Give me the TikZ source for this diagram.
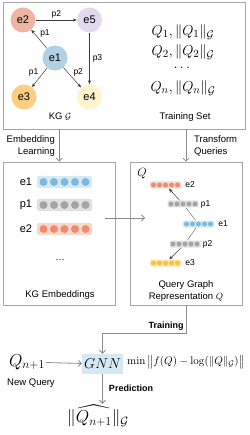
\documentclass[tikz,border=0pt]{standalone}
\usepackage{amsmath,amssymb}
\usepackage[no-math]{fontspec}
\setmainfont{Liberation Sans}
\usetikzlibrary{arrows.meta,positioning,calc}
\definecolor{entA}{RGB}{176,209,227}
\definecolor{entB}{RGB}{240,180,162}
\definecolor{entC}{RGB}{251,206,130}
\definecolor{entD}{RGB}{255,243,208}
\definecolor{entE}{RGB}{226,217,238}
\definecolor{dotblue}{RGB}{125,185,220}
\definecolor{bgblue}{RGB}{214,234,246}
\definecolor{dotgray}{RGB}{165,165,165}
\definecolor{bggray}{RGB}{224,224,224}
\definecolor{dotred}{RGB}{240,140,110}
\definecolor{bgred}{RGB}{250,215,205}
\definecolor{dotorange}{RGB}{252,190,70}
\definecolor{bgorange}{RGB}{255,230,170}
\definecolor{gnnfill}{RGB}{214,232,243}
\definecolor{boxgray}{RGB}{165,165,165}
\definecolor{flowgray}{RGB}{140,140,140}
\definecolor{arcgray}{RGB}{60,60,60}
\newcommand{\bigvec}[5]{%
  \node[bigbar,fill=#4] (#1) at (#2,#3) {};
  \foreach \k in {-2,...,2} \fill[#5] ($(#1)+(\k*10.5,0)$) circle (4pt);}
\newcommand{\smallvec}[5]{%
  \node[smallbar,fill=#4] (#1) at (#2,#3) {};
  \foreach \k in {-2,...,2} \fill[#5] ($(#1)+(\k*6,0)$) circle (2.5pt);}

\begin{document}
\begin{tikzpicture}[x=1pt,y=-1pt,
  >={Stealth[length=4pt,width=3.2pt]},
  txt/.style={font=\fontsize{9.5}{12}\selectfont,inner sep=1pt},
  bold/.style={font=\fontsize{9}{11}\selectfont\bfseries,inner sep=1pt},
  panel/.style={draw=boxgray,line width=0.6pt},
  ent/.style={circle,minimum size=25pt,inner sep=0pt,font=\fontsize{11}{13}\selectfont},
  rel/.style={font=\fontsize{8.5}{10}\selectfont,inner sep=1pt},
  small/.style={font=\fontsize{8.5}{10}\selectfont,inner sep=1pt},
  kgarc/.style={->,draw=arcgray,line width=0.5pt},
  qline/.style={draw=arcgray!80,line width=0.4pt},
  flow/.style={-{Straight Barb[length=3pt,width=6pt]},draw=flowgray,line width=0.8pt},
  bigbar/.style={rounded corners=2pt,minimum width=55pt,minimum height=12pt,inner sep=0pt},
  smallbar/.style={rounded corners=1pt,minimum width=31pt,minimum height=7pt,inner sep=0pt},
  mathbig/.style={font=\fontsize{15}{17}\selectfont,inner sep=1pt},
  mathhuge/.style={font=\fontsize{16.5}{19}\selectfont,inner sep=1pt},
  gnnbox/.style={fill=gnnfill,inner sep=2pt,minimum height=20pt,font=\fontsize{15}{18}\selectfont}
]
\useasboundingbox (0,0) rectangle (249,435);
\node[panel,minimum width=241.5pt,minimum height=127pt] (kgbox) at (124.25,65.5) {};
\node[panel,minimum width=111.5pt,minimum height=143pt] (embbox) at (59.25,233.5) {};
\node[panel,minimum width=112pt,minimum height=143pt] (qbox) at (186,233.5) {};
\node[ent,fill=entB] (e2) at (23,20) {e2};
\node[ent,fill=entE] (e5) at (89.5,20) {e5};
\node[ent,fill=entA] (e1) at (55,58) {e1};
\node[ent,fill=entC] (e3) at (24,97) {e3};
\node[ent,fill=entD] (e4) at (89.5,97) {e4};
\draw[kgarc] (e2) -- node[rel,above]{p2} (e5);
\draw[kgarc] (e1) -- node[rel,above right]{p1} (e2);
\draw[kgarc] (e5) -- node[rel,right=2pt]{p3} (e4);
\draw[kgarc] (e1) -- node[rel,above left]{p1} (e3);
\draw[kgarc] (e1) -- node[rel,above right]{p2} (e4);
\node[txt] (kglbl) at (60,117) {KG $\mathcal{G}$};
\node[mathbig] (tq1) at (183,32) {$Q_1,\|Q_1\|_{\mathcal{G}}$};
\node[mathbig] (tq2) at (183,52) {$Q_2,\|Q_2\|_{\mathcal{G}}$};
\node[mathbig] (tqd) at (183,68) {$\dots$};
\node[mathbig] (tqn) at (183,88) {$Q_n,\|Q_n\|_{\mathcal{G}}$};
\node[txt] (tslbl) at (185,117) {Training Set};
\draw[flow] (kgbox.south -| embbox.north) -- (embbox.north);
\draw[flow] (kgbox.south -| qbox.north) -- (qbox.north);
\node[txt,align=right,anchor=east] (emblbl) at (56,146) {Embedding\\Learning};
\node[txt,align=left,anchor=west] (trlbl) at (193,146) {Transform\\Queries};
\node[ent,minimum size=0pt,inner sep=1pt] (le1) at (26,182) {e1};
\node[ent,minimum size=0pt,inner sep=1pt] (lp1) at (26,205) {p1};
\node[ent,minimum size=0pt,inner sep=1pt] (le2) at (26,229) {e2};
\bigvec{ve1}{64.5}{182}{bgblue}{dotblue}
\bigvec{vp1}{64.5}{205}{bggray}{dotgray}
\bigvec{ve2}{64.5}{229}{bgred}{dotred}
\node[txt] (ldots) at (60,260) {\dots};
\node[txt] (emblbl2) at (60,295) {KG Embeddings};
\coordinate (embout) at (105,218);
\coordinate (qin) at (145,218);
\draw[flow] (embout) -- (qin);
\node[font=\fontsize{13}{15}\selectfont,inner sep=0pt] (qsym) at (142,174) {$Q$};
\smallvec{qe2}{165.5}{185}{bgred}{dotred}
\smallvec{qp1}{183}{204}{bggray}{dotgray}
\smallvec{qe1}{198.5}{224}{bgblue}{dotblue}
\smallvec{qp2}{185}{244}{bggray}{dotgray}
\smallvec{qe3}{165.5}{263}{bgorange}{dotorange}
\node[small,right=3pt of qe2] (qe2l) {e2};
\node[small,right=1pt of qp1] (qp1l) {p1};
\node[small,right=3pt of qe1] (qe1l) {e1};
\node[small,right=1pt of qp2] (qp2l) {p2};
\node[small,right=3pt of qe3] (qe3l) {e3};
\draw[qline] (qe1) -- (qp1);
\draw[kgarc] (qp1) -- (qe2);
\draw[qline] (qe1) -- (qp2);
\draw[kgarc] (qp2) -- (qe3);
\node[txt,align=center] (qlbl) at (186,291) {Query Graph\\Representation $Q$};
\node[gnnbox] (gnn) at (102.5,364) {$GNN$};
\node[mathhuge] (qnew) at (27,362) {$Q_{n+1}$};
\node[txt] (newlbl) at (31,383) {New Query};
\node[font=\fontsize{11}{13}\selectfont,inner sep=1pt] (loss) at (186,362) {$\min\big\|f(Q)-\log(\|Q\|_{\mathcal{G}})\big\|$};
\node[mathhuge] (qhat) at (98,416) {$\|\widehat{Q_{n+1}}\|_{\mathcal{G}}$};
\draw[flow] (qnew) -- (gnn);
\draw[flow] (qbox.south) -- ++(0,28) coordinate (trainturn) -| (gnn.north);
\node[bold] (trainlbl) at (166,326) {Training};
\draw[flow] (gnn.south) -- (gnn.south |- qhat.north);
\node[bold] (predlbl) at (131,388) {Prediction};
\end{tikzpicture}
\end{document}
